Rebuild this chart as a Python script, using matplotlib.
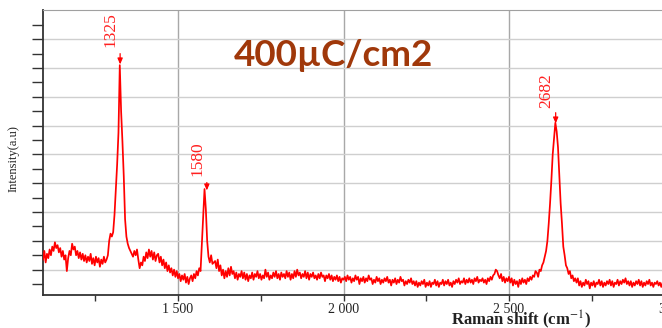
import numpy as np
import matplotlib
matplotlib.use("Agg")
import matplotlib.pyplot as plt
from matplotlib.ticker import FixedLocator, NullFormatter, FuncFormatter

plt.rcParams['mathtext.fontset'] = 'stix'

# spectrum in segments (step 4 cm-1), intensity in a.u.
step = 4
seg_starts = [1092, 1292, 1368, 1572, 1612, 2004, 2504, 2584, 2704]
seg_a = [170, 230, 150, 210, 180, 240, 200, 260, 230, 290, 250, 270, 220, 250, 190, 230, 170, 200, 90, 180,
         230, 200, 280, 240, 260, 200, 230, 180, 220, 170, 210, 160, 200, 150, 190, 160, 210, 140, 180, 130,
         190, 150, 180, 120, 170, 140, 190, 150, 170, 200]
seg_b = [300, 350, 330, 360, 480, 650, 830, 1050, 1520, 1200, 990, 750, 450, 330, 280, 250, 230, 210, 190]
seg_c = [230, 200, 240, 170, 110, 150, 130, 190, 160, 220, 180, 240, 190, 230, 170, 220, 160, 200, 210, 150,
         190, 130, 170, 110, 150, 90, 130, 80, 110, 60, 100, 50, 90, 40, 70, 20, 60, 30, 70, 10,
         50, 0, 40, 60, 20, 70, 40, 90, 60, 110, 90]
seg_d = [280, 470, 660, 520, 300, 190, 150, 200, 140]
seg_e = [160, 110, 170, 90, 130, 60, 100, 40, 90, 50, 110, 60, 120, 70, 90, 40, 80, 30, 70, 50,
         90, 40, 80, 30, 70, 20, 60, 40, 80, 30, 70, 50, 90, 40, 70, 30, 60, 40, 100, 50,
         80, 30, 60, 40, 80, 50, 90, 40, 70, 30, 80, 50, 70, 40, 90, 50, 80, 30, 70, 40,
         90, 50, 100, 60, 80, 40, 70, 50, 90, 40, 80, 30, 70, 50, 80, 40, 60, 30, 70, 40,
         80, 50, 60, 20, 60, 40, 70, 30, 60, 20, 50, 30, 60, 20, 50, 10, 40, 30]
seg_f = [50, 20, 60, 30, 50, 10, 40, 20, 60, 30, 50, 0, 40, 20, 50, 10, 40, 20, 60, 30,
         40, 0, 30, 10, 50, 20, 40, 0, 30, 10, 40, 20, 50, 10, 30, -10, 30, 10, 40, 0,
         30, 10, 50, 20, 30, -10, 20, 0, 30, 10, 40, 0, 20, -10, 20, -20, 10, -10, 20, 0,
         30, -20, 10, -10, 20, -20, 10, 0, 30, -10, 20, -20, 10, 0, 30, -10, 20, 0, 30, -10,
         10, -20, 20, 0, 30, 10, 40, 0, 20, 10, 40, 0, 30, 10, 40, 10, 30, 0, 40, 20,
         50, 10, 30, 20, 40, 10, 30, 0, 40, 20, 50, 30, 60, 70, 100, 90, 60, 40, 70, 20,
         50, 10, 40, 20, 50]
seg_g = [10, 40, -10, 30, 0, 20, -20, 30, 0, 40, 10, 30, 0, 40, 20, 50, 30, 60, 50, 90]
seg_h = [80, 50, 100, 90, 130, 150, 190, 230, 300, 420, 560, 720, 900, 1010, 1120, 1060, 950, 760, 560, 420,
         260, 200, 130, 110, 70, 90, 40, 60, 20, 40]
seg_i = [10, 40, -10, 20, -20, 10, -10, 30, 0, 20, -30, 10, -10, 20, -20, 10, 0, 30, -10, 20,
         -20, 10, -10, 20, 0, 30, -10, 20, -20, 10, 0, 30, -10, 20, 0, 30, 10, 40, 0, 20,
         -10, 20, -20, 10, -10, 20, 0, 30, -10, 20, -20, 10, -10, 20, 0, 30, -10, 10, -20, 10,
         0, 20, -10, 10, -20, 10, 0, 20, -10, 10, -20, 0, -10, 10, -10]
segments = [seg_a, seg_b, seg_c, seg_d, seg_e, seg_f, seg_g, seg_h, seg_i]

# peak labels: (label, peak position, label centre height, arrow tail, arrow tip)
peak_labels = ["1325", "1580", "2682"]
peak_pos = [1325, 1587, 2641]
label_y = [1770, 868, 1346]
arrow_tail = [1600, 705, 1190]
arrow_tip = [1525, 650, 1115]

x_major = [1500, 2000, 2500, 3000]
x_minor = [1250, 1750, 2250, 2750]
y_major = [100, 300, 500, 700, 900, 1100, 1300, 1500, 1700]
y_minor = [0, 200, 400, 600, 800, 1000, 1200, 1400, 1600, 1800]

xs, ys = [], []
for start, vals in zip(seg_starts, segments):
    xs.extend(start + step * np.arange(len(vals)))
    ys.extend(vals)

fig = plt.figure(figsize=(6.62, 3.28), dpi=100)
ax = fig.add_axes([43 / 662, 33 / 328, 631.5 / 662, 285 / 328])

ax.plot(xs, ys, color='#ff0000', lw=1.25, zorder=3)
ax.set_xlim(1092, 3000)
ax.set_ylim(-76, 1903)

ax.xaxis.set_major_locator(FixedLocator(x_major))
ax.xaxis.set_minor_locator(FixedLocator(x_minor))
ax.xaxis.set_major_formatter(FuncFormatter(lambda v, p: f"{int(v):,}".replace(",", " ")))
ax.yaxis.set_major_locator(FixedLocator(y_major))
ax.yaxis.set_minor_locator(FixedLocator(y_minor))
ax.yaxis.set_major_formatter(NullFormatter())

ax.grid(axis='x', which='major', color='#a8a8a8', lw=1.0, zorder=1)
ax.grid(axis='y', which='major', color='#cfcfcf', lw=1.0, zorder=1)

ax.tick_params(axis='x', which='both', direction='out', length=4, width=1, color='#333333', pad=2,
               labelsize=10, labelfontfamily='Liberation Serif', labelcolor='#222222')
ax.tick_params(axis='y', which='both', direction='out', length=8, width=1, color='#333333')

for s in ['left', 'bottom']:
    ax.spines[s].set_color('#333333')
    ax.spines[s].set_linewidth(1.3)
ax.spines['top'].set_color('#a0a0a0')
ax.spines['right'].set_visible(False)

ax.set_xlabel('Raman shift (cm$^{-1}$)', family='Liberation Serif', fontweight='bold',
              fontsize=12, color='#222222', va='center')
ax.xaxis.set_label_coords(0.757, -0.088)
ax.set_ylabel('Intensity(a.u)', family='Liberation Serif', fontsize=9, color='#222222', va='center')
ax.yaxis.set_label_coords(-0.046, 0.48)

for lab, px, ly, tail, tip in zip(peak_labels, peak_pos, label_y, arrow_tail, arrow_tip):
    ax.text(px - 4, ly, lab, rotation=90, ha='right', va='center', color='#ff2020',
            family='Liberation Serif', fontsize=12.5, zorder=4)
    ax.annotate('', xy=(px, tip), xytext=(px, tail),
                arrowprops=dict(arrowstyle='-|>,head_length=0.35,head_width=0.15',
                                color='#ff0000', lw=0.9, shrinkA=0, shrinkB=0), zorder=4)

fig.text(333 / 662, 1 - 55 / 328, '400µC/cm2', ha='center', va='center', color='#a0380a',
         family='Lato', fontweight='bold', fontsize=26.5)

fig.savefig('out.png', dpi=100)
